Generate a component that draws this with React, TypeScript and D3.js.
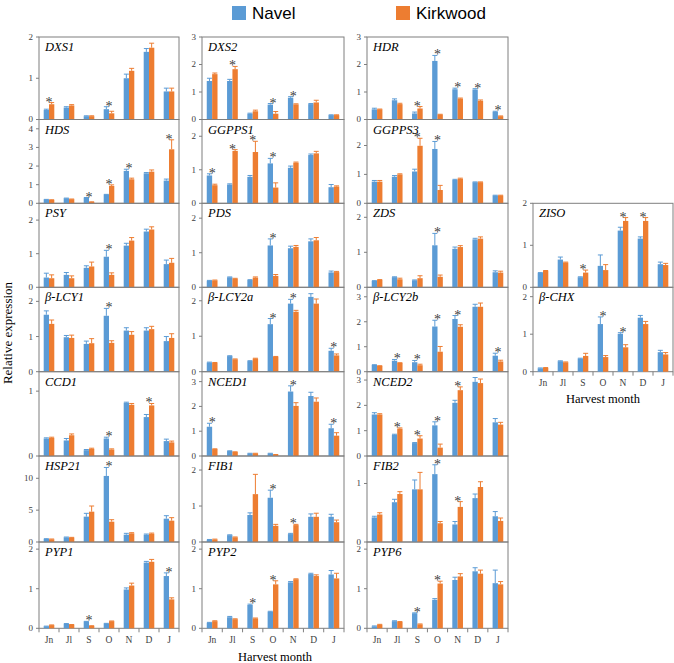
import React from "react";
import * as d3 from "d3";

const months = ["Jn", "Jl", "S", "O", "N", "D", "J"];
const seriesNames = ["Navel", "Kirkwood"];
const seriesColors = ["#5B9BD5", "#ED7D31"];

// ---- gene data: Navel value / error, Kirkwood value / error, significant months ----
const DXS1_N = [0.23, 0.29, 0.08, 0.25, 1.0, 1.64, 0.68];
const DXS1_NE = [0.02, 0.02, 0.01, 0.06, 0.1, 0.08, 0.08];
const DXS1_K = [0.37, 0.34, 0.08, 0.15, 1.18, 1.74, 0.68];
const DXS1_KE = [0.04, 0.02, 0.01, 0.05, 0.06, 0.11, 0.08];
const DXS1_S = [0, 3];

const DXS2_N = [1.4, 1.4, 0.21, 0.54, 0.79, 0.56, 0.16];
const DXS2_NE = [0.1, 0.06, 0.02, 0.04, 0.04, 0.02, 0.01];
const DXS2_K = [1.65, 1.83, 0.3, 0.21, 0.55, 0.62, 0.16];
const DXS2_KE = [0.04, 0.1, 0.04, 0.08, 0.02, 0.08, 0.01];
const DXS2_S = [1, 3, 4];

const HDR_N = [0.37, 0.7, 0.22, 2.13, 1.1, 1.09, 0.28];
const HDR_NE = [0.04, 0.05, 0.05, 0.2, 0.04, 0.03, 0.02];
const HDR_K = [0.37, 0.56, 0.4, 0.18, 0.76, 0.68, 0.12];
const HDR_KE = [0.01, 0.03, 0.07, 0.01, 0.02, 0.03, 0.01];
const HDR_S = [2, 3, 4, 5, 6];

const HDS_N = [0.2, 0.27, 0.29, 0.47, 1.74, 1.61, 1.22];
const HDS_NE = [0.01, 0.01, 0.02, 0.01, 0.09, 0.04, 0.08];
const HDS_K = [0.18, 0.22, 0.07, 0.93, 1.29, 1.7, 2.9];
const HDS_KE = [0.01, 0.01, 0.01, 0.06, 0.06, 0.09, 0.51];
const HDS_S = [2, 3, 4, 6];

const GGPPS1_N = [0.83, 0.56, 0.79, 1.19, 1.06, 1.44, 0.48];
const GGPPS1_NE = [0.05, 0.02, 0.04, 0.15, 0.05, 0.03, 0.08];
const GGPPS1_K = [0.54, 1.56, 1.53, 0.47, 1.21, 1.49, 0.5];
const GGPPS1_KE = [0.03, 0.04, 0.32, 0.14, 0.02, 0.06, 0.02];
const GGPPS1_S = [0, 1, 2, 3];

const GGPPS3_N = [0.75, 0.92, 1.1, 1.88, 0.81, 0.73, 0.27];
const GGPPS3_NE = [0.04, 0.04, 0.08, 0.26, 0.02, 0.01, 0.01];
const GGPPS3_K = [0.75, 1.0, 1.99, 0.46, 0.85, 0.73, 0.27];
const GGPPS3_KE = [0.04, 0.02, 0.26, 0.16, 0.02, 0.01, 0.01];
const GGPPS3_S = [2, 3];

const PSY_N = [0.29, 0.37, 0.58, 0.91, 1.24, 1.66, 0.69];
const PSY_NE = [0.13, 0.07, 0.06, 0.19, 0.07, 0.07, 0.12];
const PSY_K = [0.27, 0.27, 0.62, 0.37, 1.39, 1.72, 0.73];
const PSY_KE = [0.1, 0.07, 0.13, 0.06, 0.09, 0.08, 0.13];
const PSY_S = [3];

const PDS_N = [0.19, 0.29, 0.21, 1.21, 1.13, 1.33, 0.43];
const PDS_NE = [0.01, 0.01, 0.01, 0.19, 0.06, 0.07, 0.04];
const PDS_K = [0.2, 0.25, 0.28, 0.33, 1.17, 1.36, 0.44];
const PDS_KE = [0.01, 0.01, 0.02, 0.04, 0.04, 0.08, 0.02];
const PDS_S = [3];

const ZDS_N = [0.18, 0.29, 0.2, 1.2, 1.1, 1.37, 0.43];
const ZDS_NE = [0.01, 0.01, 0.01, 0.34, 0.05, 0.03, 0.04];
const ZDS_K = [0.21, 0.23, 0.26, 0.3, 1.15, 1.39, 0.42];
const ZDS_KE = [0.01, 0.03, 0.07, 0.05, 0.04, 0.05, 0.04];
const ZDS_S = [3];

const ZISO_N = [0.34, 0.66, 0.24, 0.51, 1.35, 1.16, 0.55];
const ZISO_NE = [0.01, 0.06, 0.01, 0.26, 0.08, 0.04, 0.05];
const ZISO_K = [0.39, 0.59, 0.35, 0.41, 1.58, 1.58, 0.53];
const ZISO_KE = [0.01, 0.01, 0.06, 0.13, 0.08, 0.08, 0.04];
const ZISO_S = [2, 4, 5];

const LCY1_N = [1.62, 0.98, 0.79, 1.59, 1.17, 1.17, 0.87];
const LCY1_NE = [0.11, 0.05, 0.08, 0.21, 0.08, 0.08, 0.13];
const LCY1_K = [1.36, 0.96, 0.81, 0.82, 1.05, 1.21, 0.96];
const LCY1_KE = [0.11, 0.08, 0.13, 0.06, 0.09, 0.08, 0.12];
const LCY1_S = [3];

const LCY2A_N = [0.26, 0.44, 0.3, 1.34, 1.92, 2.11, 0.59];
const LCY2A_NE = [0.01, 0.01, 0.01, 0.16, 0.12, 0.09, 0.07];
const LCY2A_K = [0.25, 0.35, 0.37, 0.42, 1.69, 1.92, 0.46];
const LCY2A_KE = [0.01, 0.01, 0.01, 0.01, 0.04, 0.13, 0.04];
const LCY2A_S = [3, 4, 6];

const LCY2B_N = [0.27, 0.44, 0.38, 1.81, 2.11, 2.6, 0.64];
const LCY2B_NE = [0.01, 0.05, 0.07, 0.25, 0.14, 0.1, 0.1];
const LCY2B_K = [0.23, 0.35, 0.26, 0.8, 1.8, 2.6, 0.41];
const LCY2B_KE = [0.01, 0.01, 0.04, 0.21, 0.08, 0.15, 0.05];
const LCY2B_S = [1, 2, 3, 4, 6];

const CHX_N = [0.09, 0.28, 0.35, 1.27, 1.01, 1.44, 0.52];
const CHX_NE = [0.01, 0.01, 0.01, 0.19, 0.03, 0.06, 0.05];
const CHX_K = [0.1, 0.25, 0.42, 0.39, 0.65, 1.27, 0.46];
const CHX_KE = [0.01, 0.01, 0.07, 0.04, 0.07, 0.07, 0.05];
const CHX_S = [3, 4];

const CCD1_N = [0.27, 0.24, 0.09, 0.27, 0.82, 0.6, 0.23];
const CCD1_NE = [0.01, 0.03, 0.01, 0.02, 0.01, 0.04, 0.03];
const CCD1_K = [0.28, 0.32, 0.11, 0.1, 0.79, 0.78, 0.21];
const CCD1_KE = [0.01, 0.02, 0.01, 0.01, 0.02, 0.03, 0.02];
const CCD1_S = [3, 5];

const NCED1_N = [1.18, 0.2, 0.1, 0.1, 2.6, 2.42, 1.12];
const NCED1_NE = [0.14, 0.01, 0.01, 0.01, 0.23, 0.15, 0.16];
const NCED1_K = [0.28, 0.16, 0.1, 0.05, 2.02, 2.19, 0.82];
const NCED1_KE = [0.01, 0.01, 0.01, 0.01, 0.13, 0.15, 0.12];
const NCED1_S = [0, 4, 6];

const NCED2_N = [1.64, 0.84, 0.51, 1.21, 2.1, 2.93, 1.33];
const NCED2_NE = [0.07, 0.02, 0.02, 0.14, 0.1, 0.17, 0.15];
const NCED2_K = [1.64, 1.08, 0.69, 0.33, 2.6, 2.88, 1.24];
const NCED2_KE = [0.03, 0.03, 0.11, 0.14, 0.13, 0.16, 0.09];
const NCED2_S = [1, 2, 3, 4];

const HSP21_N = [0.47, 0.73, 3.98, 10.37, 1.15, 1.15, 3.66];
const HSP21_NE = [0.05, 0.05, 0.52, 1.33, 0.21, 0.1, 0.47];
const HSP21_K = [0.42, 0.68, 4.76, 3.19, 1.36, 1.3, 3.35];
const HSP21_KE = [0.05, 0.05, 0.89, 0.31, 0.1, 0.1, 0.47];
const HSP21_S = [3];

const FIB1_N = [0.06, 0.19, 0.75, 1.23, 0.22, 0.7, 0.7];
const FIB1_NE = [0.01, 0.01, 0.06, 0.21, 0.02, 0.08, 0.07];
const FIB1_K = [0.07, 0.13, 1.33, 0.45, 0.47, 0.7, 0.55];
const FIB1_KE = [0.01, 0.01, 0.55, 0.04, 0.02, 0.1, 0.06];
const FIB1_S = [3, 4];

const FIB2_N = [0.42, 0.68, 0.9, 1.16, 0.3, 0.75, 0.44];
const FIB2_NE = [0.02, 0.05, 0.16, 0.16, 0.05, 0.07, 0.08];
const FIB2_K = [0.47, 0.82, 0.9, 0.32, 0.6, 0.94, 0.36];
const FIB2_KE = [0.03, 0.04, 0.29, 0.03, 0.09, 0.09, 0.05];
const FIB2_S = [3, 4];

const PYP1_N = [0.05, 0.11, 0.17, 0.12, 0.98, 1.66, 1.32];
const PYP1_NE = [0.005, 0.01, 0.005, 0.005, 0.04, 0.03, 0.08];
const PYP1_K = [0.08, 0.09, 0.06, 0.18, 1.08, 1.68, 0.73];
const PYP1_KE = [0.005, 0.005, 0.005, 0.005, 0.06, 0.06, 0.04];
const PYP1_S = [2, 6];

const PYP2_N = [0.14, 0.28, 0.59, 0.42, 1.16, 1.37, 1.36];
const PYP2_NE = [0.01, 0.02, 0.02, 0.01, 0.02, 0.02, 0.1];
const PYP2_K = [0.18, 0.23, 0.25, 1.11, 1.24, 1.32, 1.26];
const PYP2_KE = [0.01, 0.01, 0.01, 0.09, 0.01, 0.03, 0.13];
const PYP2_S = [2, 3];

const PYP6_N = [0.05, 0.18, 0.38, 0.72, 1.22, 1.44, 1.14];
const PYP6_NE = [0.01, 0.01, 0.01, 0.03, 0.07, 0.09, 0.33];
const PYP6_K = [0.09, 0.16, 0.1, 1.13, 1.31, 1.38, 1.11];
const PYP6_KE = [0.01, 0.01, 0.01, 0.06, 0.07, 0.09, 0.07];
const PYP6_S = [2, 3];

// panel table: name, column, row, y-axis max, tick labels, data
const panels = [
  { name: "DXS1", c: 0, r: 0, max: 2, ticks: [0, 1, 2], n: DXS1_N, ne: DXS1_NE, k: DXS1_K, ke: DXS1_KE, s: DXS1_S },
  { name: "HDS", c: 0, r: 1, max: 4.5, ticks: [0, 1, 2, 3, 4], n: HDS_N, ne: HDS_NE, k: HDS_K, ke: HDS_KE, s: HDS_S },
  { name: "PSY", c: 0, r: 2, max: 2.5, ticks: [0, 1, 2], n: PSY_N, ne: PSY_NE, k: PSY_K, ke: PSY_KE, s: PSY_S },
  { name: "β-LCY1", c: 0, r: 3, max: 2.4, ticks: [0, 1, 2], n: LCY1_N, ne: LCY1_NE, k: LCY1_K, ke: LCY1_KE, s: LCY1_S },
  { name: "CCD1", c: 0, r: 4, max: 1.3, ticks: [0, 1], n: CCD1_N, ne: CCD1_NE, k: CCD1_K, ke: CCD1_KE, s: CCD1_S },
  { name: "HSP21", c: 0, r: 5, max: 13.5, ticks: [0, 5, 10], n: HSP21_N, ne: HSP21_NE, k: HSP21_K, ke: HSP21_KE, s: HSP21_S },
  { name: "PYP1", c: 0, r: 6, max: 2.18, ticks: [0, 1, 2], n: PYP1_N, ne: PYP1_NE, k: PYP1_K, ke: PYP1_KE, s: PYP1_S },
  { name: "DXS2", c: 1, r: 0, max: 3, ticks: [0, 1, 2, 3], n: DXS2_N, ne: DXS2_NE, k: DXS2_K, ke: DXS2_KE, s: DXS2_S },
  { name: "GGPPS1", c: 1, r: 1, max: 2.5, ticks: [0, 1, 2], n: GGPPS1_N, ne: GGPPS1_NE, k: GGPPS1_K, ke: GGPPS1_KE, s: GGPPS1_S },
  { name: "PDS", c: 1, r: 2, max: 2.43, ticks: [0, 1, 2], n: PDS_N, ne: PDS_NE, k: PDS_K, ke: PDS_KE, s: PDS_S },
  { name: "β-LCY2a", c: 1, r: 3, max: 2.38, ticks: [0, 1, 2], n: LCY2A_N, ne: LCY2A_NE, k: LCY2A_K, ke: LCY2A_KE, s: LCY2A_S },
  { name: "NCED1", c: 1, r: 4, max: 3.4, ticks: [0, 1, 2, 3], n: NCED1_N, ne: NCED1_NE, k: NCED1_K, ke: NCED1_KE, s: NCED1_S },
  { name: "FIB1", c: 1, r: 5, max: 2.39, ticks: [0, 1, 2], n: FIB1_N, ne: FIB1_NE, k: FIB1_K, ke: FIB1_KE, s: FIB1_S },
  { name: "PYP2", c: 1, r: 6, max: 2.18, ticks: [0, 1, 2], n: PYP2_N, ne: PYP2_NE, k: PYP2_K, ke: PYP2_KE, s: PYP2_S },
  { name: "HDR", c: 2, r: 0, max: 3, ticks: [0, 1, 2, 3], n: HDR_N, ne: HDR_NE, k: HDR_K, ke: HDR_KE, s: HDR_S },
  { name: "GGPPS3", c: 2, r: 1, max: 2.9, ticks: [0, 1, 2], n: GGPPS3_N, ne: GGPPS3_NE, k: GGPPS3_K, ke: GGPPS3_KE, s: GGPPS3_S },
  { name: "ZDS", c: 2, r: 2, max: 2.4, ticks: [0, 1, 2], n: ZDS_N, ne: ZDS_NE, k: ZDS_K, ke: ZDS_KE, s: ZDS_S },
  { name: "β-LCY2b", c: 2, r: 3, max: 3.38, ticks: [0, 1, 2, 3], n: LCY2B_N, ne: LCY2B_NE, k: LCY2B_K, ke: LCY2B_KE, s: LCY2B_S },
  { name: "NCED2", c: 2, r: 4, max: 3.33, ticks: [0, 1, 2, 3], n: NCED2_N, ne: NCED2_NE, k: NCED2_K, ke: NCED2_KE, s: NCED2_S },
  { name: "FIB2", c: 2, r: 5, max: 1.47, ticks: [0, 1], n: FIB2_N, ne: FIB2_NE, k: FIB2_K, ke: FIB2_KE, s: FIB2_S },
  { name: "PYP6", c: 2, r: 6, max: 2.18, ticks: [0, 1, 2], n: PYP6_N, ne: PYP6_NE, k: PYP6_K, ke: PYP6_KE, s: PYP6_S },
  { name: "ZISO", c: 3, r: 2, max: 2, ticks: [0, 1, 2], n: ZISO_N, ne: ZISO_NE, k: ZISO_K, ke: ZISO_KE, s: ZISO_S },
  { name: "β-CHX", c: 3, r: 3, max: 2.25, ticks: [0, 1, 2], n: CHX_N, ne: CHX_NE, k: CHX_K, ke: CHX_KE, s: CHX_S },
];

// layout
const W = 674;
const H = 663;
const colX = [39, 202, 367, 533];
const colW = [140, 142, 141, 140];
const rowY = [37, 119.5, 203.3, 287.3, 371.7, 456, 542, 628.3];
const bottomRow = [6, 6, 6, 3];
const serif = "'Liberation Serif', 'Times New Roman', serif";
const sans = "'Liberation Sans', Arial, sans-serif";
const frameColor = "#7f7f7f";
const textColor = "#404040";

function Panel({ p }: { p: any }) {
  const x0 = colX[p.c];
  const w = colW[p.c];
  const top = rowY[p.r];
  const bottom = rowY[p.r + 1];
  const x = d3.scaleBand<string>().domain(months).range([x0, x0 + w]).padding(0);
  const y = d3.scaleLinear().domain([0, p.max]).range([bottom, top]);
  const bw = x.bandwidth() * 0.265;
  const series = [
    { v: p.n, e: p.ne, color: seriesColors[0], off: -bw },
    { v: p.k, e: p.ke, color: seriesColors[1], off: 0 },
  ];
  const isBottom = bottomRow[p.c] === p.r;
  return (
    <g>
      <rect x={x0} y={top} width={w} height={bottom - top} fill="none" stroke={frameColor} strokeWidth={1} />
      {p.ticks.map((t: number) => (
        <g key={t}>
          <line x1={x0 - 3} x2={x0} y1={y(t)} y2={y(t)} stroke={frameColor} />
          <text x={x0 - 6} y={y(t)} dy="0.33em" textAnchor="end" fontSize={9} fontFamily={serif} fill={textColor}>
            {t}
          </text>
        </g>
      ))}
      {series.map((s, si) =>
        months.map((m, i) => {
          const cx = (x(m) as number) + x.bandwidth() / 2 + s.off;
          const yv = y(s.v[i]);
          const ye = y(s.v[i] + s.e[i]);
          return (
            <g key={si + "-" + m}>
              <rect x={cx} y={yv} width={bw} height={bottom - yv} fill={s.color} />
              <line x1={cx + bw / 2} x2={cx + bw / 2} y1={yv} y2={ye} stroke={s.color} strokeWidth={1} />
              <line x1={cx + bw / 2 - 2.5} x2={cx + bw / 2 + 2.5} y1={ye} y2={ye} stroke={s.color} strokeWidth={1} />
            </g>
          );
        })
      )}
      {p.s.map((i: number) => {
        const m = months[i];
        const cx = (x(m) as number) + x.bandwidth() / 2;
        const topV = Math.max(p.n[i] + p.ne[i], p.k[i] + p.ke[i]);
        return (
          <text key={"s" + i} x={cx} y={y(topV) + 4} textAnchor="middle" fontSize={14} fontFamily={serif} fill={textColor}>
            *
          </text>
        );
      })}
      <text x={x0 + 6} y={top + 14} fontSize={12.5} fontStyle="italic" fontFamily={serif} fill="#000">
        {p.name}
      </text>
      {isBottom && (
        <g>
          {d3.range(months.length + 1).map((j) => {
            const xx = x0 + j * x.bandwidth();
            return <line key={"t" + j} x1={xx} x2={xx} y1={bottom} y2={bottom + 4} stroke={frameColor} />;
          })}
          {months.map((m) => (
            <text key={"m" + m} x={(x(m) as number) + x.bandwidth() / 2} y={bottom + 14.5} textAnchor="middle" fontSize={9.5} fontFamily={serif} fill={textColor}>
              {m}
            </text>
          ))}
        </g>
      )}
    </g>
  );
}

export default function App() {
  return (
    <svg width={W} height={H} style={{ position: "absolute", left: 0, top: 0, background: "#fff" }}>
      <rect x={0} y={0} width={W} height={H} fill="#fff" />
      {seriesNames.map((s, i) => {
        const lx = [232, 396][i];
        return (
          <g key={s}>
            <rect x={lx} y={6} width={14} height={14} fill={seriesColors[i]} />
            <text x={lx + 20} y={19} fontSize={17} fontFamily={sans} fill="#000">
              {s}
            </text>
          </g>
        );
      })}
      {panels.map((p) => (
        <Panel key={p.name} p={p} />
      ))}
      <text transform={`translate(12, 333) rotate(-90)`} textAnchor="middle" fontSize={13} fontFamily={serif} fill="#000">
        Relative expression
      </text>
      <text x={275} y={661} textAnchor="middle" fontSize={12.5} fontFamily={serif} fill="#000">
        Harvest month
      </text>
      <text x={603} y={403} textAnchor="middle" fontSize={12.5} fontFamily={serif} fill="#000">
        Harvest month
      </text>
    </svg>
  );
}
